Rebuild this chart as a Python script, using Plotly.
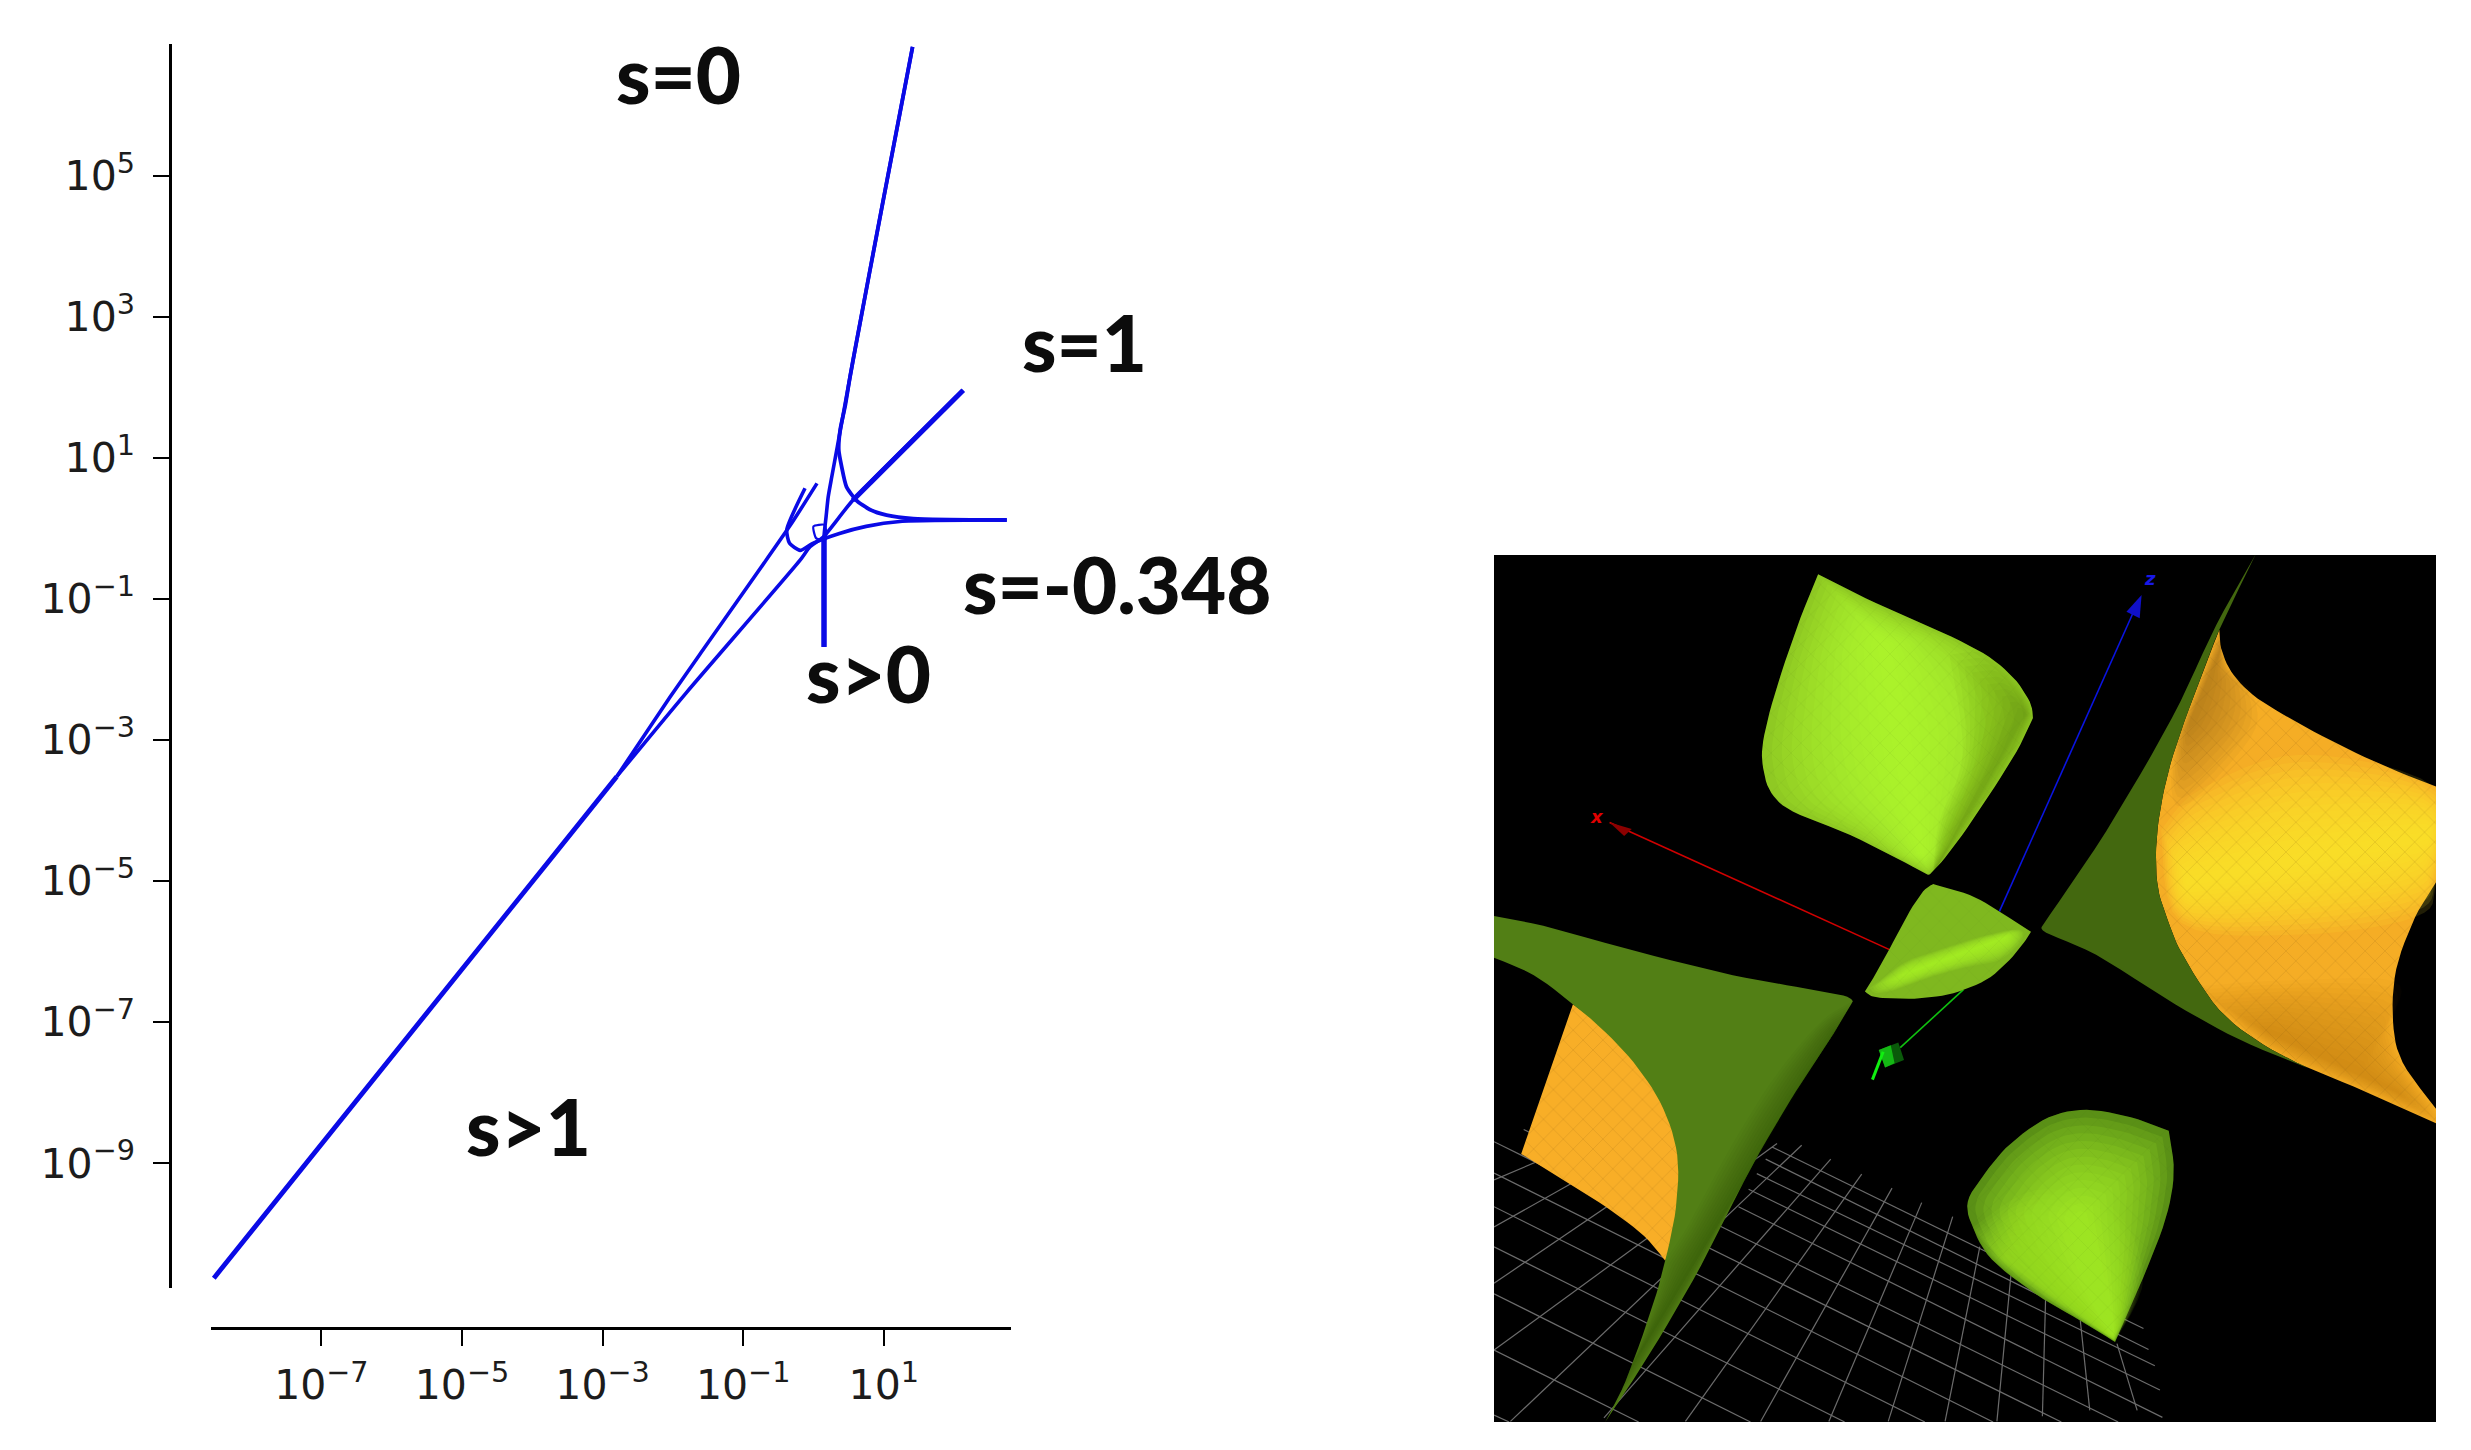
import plotly.graph_objects as go

W, H = 2471, 1450
PAGE = 8  # the page's own margin round the figure


def fx(p):
    return (p - PAGE) / (W - 2 * PAGE)


def fy(p):
    return 1 - (p - PAGE) / (H - 2 * PAGE)


# ---- left chart: curves as log10 values ----
x_ticks = [-7, -5, -3, -1, 1]
y_ticks = [-9, -7, -5, -3, -1, 1, 3, 5]
trunk_x = [-8.53, -3.75, -2.80]
trunk_y = [-10.63, -4.70, -3.52]
upper_x = [-2.80, -2.04, -1.62, -0.34, 0.05]
upper_y = [-3.52, -2.39, -1.79, 0.03, 0.64]
s1_x = [-2.80, -1.81, -0.19, -0.05, 0.14, 0.56, 2.13]
s1_y = [-3.52, -2.33, -0.45, -0.26, -0.12, 0.40, 1.96]
loop_x = [-0.12, -0.38, -0.34, -0.19, -0.01, 0.37, 0.75, 1.23, 2.75]
loop_y = [0.57, -0.02, -0.21, -0.31, -0.21, -0.07, 0.03, 0.10, 0.12]
s0_x = [1.41, 0.98, 0.59, 0.52, 0.45, 0.38, 0.36, 0.40, 0.47, 0.61, 0.80, 1.04, 1.42, 2.75]
s0_y = [6.83, 4.59, 2.53, 2.15, 1.73, 1.40, 1.11, 0.88, 0.59, 0.40, 0.27, 0.19, 0.14, 0.12]
spos_x = [1.41, 0.98, 0.59, 0.52, 0.34, 0.26, 0.21, 0.18, 0.15, 0.15]
spos_y = [6.83, 4.59, 2.53, 2.15, 1.16, 0.73, 0.45, 0.17, -0.12, -1.68]
knot_x = [0.00, 0.16, 0.17, 0.04, 0.00]
knot_y = [0.03, 0.05, -0.16, -0.14, 0.03]

labels = [("s=0", 678, 74), ("s=1", 1084, 342), ("s=-0.348", 1117, 584),
          ("s>0", 868, 673), ("s>1", 528, 1126)]

# ---- right picture: outlines in panel coordinates, as runs joined at sharp corners ----
grid_rows = [
    (462, 1046, 1050, 1359), (452, 1067, 1058, 1395), (438, 1092, 1068, 1423),
    (425, 1119, 1076, 1465), (409, 1149, 1080, 1512), (69, 1016, 1010, 1520),
    (22, 1037, 920, 1520), (22, 1091, 812, 1520), (22, 1149, 704, 1520),
    (22, 1218, 577, 1520), (22, 1299, 428, 1520), (22, 1396, 251, 1520),
    (22, 1508, 46, 1520)]
grid_cols = [
    (509, 1043, 48, 1519), (555, 1067, 196, 1513), (604, 1093, 325, 1519),
    (652, 1117, 444, 1519), (699, 1142, 552, 1519), (748, 1166, 646, 1519),
    (791, 1218, 736, 1519), (841, 1258, 818, 1519), (895, 1310, 890, 1510),
    (950, 1345, 965, 1500), (1008, 1385, 1040, 1500), (22, 1396, 470, 1040),
    (22, 1281, 391, 1008), (22, 1184, 285, 1023), (22, 1103, 233, 1005)]

orange_left = [[(147, 800), (65, 1058)],
               [(65, 1058), (120, 1095), (200, 1150), (260, 1200), (293, 1242)],
               [(293, 1242), (330, 1100), (250, 900), (147, 800)]]
green_left = [[(22, 648), (100, 665), (250, 710), (400, 750), (500, 770), (575, 785), (590, 795)],
              [(590, 795), (560, 850), (500, 950), (430, 1080), (350, 1250), (270, 1400), (198, 1520)],
              [(198, 1520), (230, 1450), (270, 1330), (293, 1242), (310, 1150), (312, 1060), (290, 980),
               (250, 910), (200, 850), (147, 800), (85, 750), (22, 720)],
              [(22, 720), (22, 648)]]
green_left_shade = [[(590, 795), (560, 850), (500, 950), (430, 1080), (350, 1250), (270, 1400), (198, 1520)],
                    [(198, 1520), (230, 1450), (270, 1330), (293, 1242)],
                    [(293, 1242), (330, 1180), (400, 1040), (470, 920), (540, 830), (590, 795)]]
green_right = [[(1228, 24), (1165, 147), (1095, 307), (991, 502), (891, 663)],
               [(891, 663), (896, 677), (975, 715), (1100, 800), (1200, 860), (1310, 910)],
               [(1310, 910), (1240, 870), (1170, 810), (1112, 715), (1089, 657), (1073, 600), (1070, 531),
                (1078, 456), (1097, 370), (1134, 256), (1170, 155), (1228, 24)]]
orange_right = [[(1170, 155), (1173, 187), (1189, 227), (1223, 267), (1281, 307), (1360, 353),
                 (1439, 393), (1513, 425)],
                [(1513, 425), (1513, 590)],
                [(1513, 590), (1480, 650), (1450, 740), (1445, 830), (1460, 900), (1513, 980)],
                [(1513, 980), (1513, 1005)],
                [(1513, 1005), (1400, 950), (1310, 910)],
                [(1310, 910), (1240, 870), (1170, 810), (1112, 715), (1089, 657), (1073, 600),
                 (1070, 531), (1078, 456), (1097, 370), (1134, 256), (1170, 155)]]
orange_glow = [[(1078, 500), (1140, 430), (1300, 370), (1513, 428), (1513, 588), (1480, 650),
                (1300, 680), (1110, 660), (1078, 500)]]
orange_dim = [[(1170, 155), (1173, 187), (1189, 227), (1223, 267), (1220, 340), (1110, 460),
               (1097, 370), (1134, 256), (1170, 155)]]
orange_dark = [[(1130, 770), (1250, 760), (1445, 760), (1445, 830), (1460, 900), (1513, 980),
                (1513, 1005), (1400, 950), (1310, 910), (1240, 870), (1170, 810), (1130, 770)]]
lump_top = [[(535, 59), (611, 101), (717, 152), (796, 195), (843, 236), (870, 279), (875, 307)],
            [(875, 307), (849, 365), (796, 456), (748, 531), (717, 571), (709, 577)],
            [(709, 577), (685, 563), (585, 508), (495, 468), (461, 436), (448, 393), (448, 347),
             (466, 267), (501, 152), (535, 59)]]
lump_top_side = [[(743, 198), (796, 195), (843, 236), (870, 279), (875, 307)],
                 [(875, 307), (849, 365), (796, 456), (748, 531), (717, 571)],
                 [(717, 571), (727, 485), (764, 370), (743, 198)]]
lump_low = [[(1090, 1018), (1030, 995), (960, 982), (900, 995), (840, 1040), (800, 1090), (772, 1140),
             (780, 1185), (810, 1240), (880, 1300), (950, 1345), (1005, 1382)],
            [(1005, 1382), (1050, 1270), (1085, 1170), (1098, 1090), (1090, 1018)]]
lump_low_lit = [[(780, 1185), (810, 1240), (880, 1300), (950, 1345), (1005, 1382)],
                [(1005, 1382), (1050, 1270), (1000, 1150), (880, 1120), (780, 1185)]]
lump_mid = [[(609, 778), (619, 761), (643, 715), (675, 649), (701, 606), (717, 593)],
            [(717, 593), (775, 612), (822, 640), (862, 669), (872, 675)],
            [(872, 675), (864, 689), (838, 724), (801, 758), (749, 781), (696, 790), (648, 790),
             (622, 787), (609, 778)]]
lump_mid_band = [[(617, 772), (670, 729), (712, 712), (775, 689), (838, 672), (859, 675),
                  (854, 695), (822, 724), (775, 735), (717, 752), (659, 775), (627, 781), (617, 772)]]
axis_x = [(205, 487), (648, 706)]
axis_z = [(822, 640), (1040, 110)]
axis_y = [(765, 775), (665, 875)]
axis_y_stem = [(638, 882), (621, 930)]
head_x = [[(205, 487), (240, 498)], [(240, 498), (228, 510)], [(228, 510), (205, 487)]]
head_z = [[(1047, 95), (1023, 124)], [(1023, 124), (1044, 135)], [(1044, 135), (1047, 95)]]
cube = [[(631, 879), (662, 866)], [(662, 866), (671, 896)], [(671, 896), (641, 909)], [(641, 909), (631, 879)]]
cube_lit = [[(631, 879), (650, 871)], [(650, 871), (656, 902)], [(656, 902), (641, 909)], [(641, 909), (631, 879)]]

fig = go.Figure()


def curve(xs, ys, width):
    fig.add_trace(go.Scatter(
        x=[10 ** v for v in xs], y=[10 ** v for v in ys], mode="lines",
        line=dict(color="#0a0ae6", width=width, shape="spline", smoothing=0.6),
        hoverinfo="skip", showlegend=False))


curve(trunk_x, trunk_y, 4.8)
curve(upper_x, upper_y, 3.6)
curve(s1_x, s1_y, 3.6)
curve(s1_x[-2:], s1_y[-2:], 5.2)
curve(loop_x, loop_y, 3.6)
curve(s0_x, s0_y, 3.8)
curve(spos_x, spos_y, 3.6)
curve(spos_x[-2:], spos_y[-2:], 5.5)
curve(knot_x, knot_y, 2.2)


def seg(p, color, width):
    fig.add_trace(go.Scatter(x=[q[0] for q in p], y=[q[1] for q in p], mode="lines",
                             line=dict(color=color, width=width), xaxis="x2", yaxis="y2",
                             hoverinfo="skip", showlegend=False))


def rounded(run, steps=6):
    """Round a run of outline points with a Catmull-Rom curve; its two ends stay put."""
    if len(run) < 3:
        return list(run)
    pts = [run[0]] + list(run) + [run[-1]]
    out = []
    for i in range(1, len(pts) - 2):
        p0, p1, p2, p3 = pts[i - 1], pts[i], pts[i + 1], pts[i + 2]
        for k in range(steps):
            t = k / steps
            out.append(tuple(
                0.5 * (2 * p1[d] + (p2[d] - p0[d]) * t + (2 * p0[d] - 5 * p1[d] + 4 * p2[d] - p3[d]) * t * t
                       + (3 * p1[d] - p0[d] - 3 * p2[d] + p3[d]) * t * t * t) for d in (0, 1)))
    out.append(run[-1])
    return out


def outline(runs):
    out = []
    for r in runs:
        out += rounded(r)
    return out


def blob(poly, color, **kw):
    xs = [q[0] for q in poly] + [poly[0][0]]
    ys = [q[1] for q in poly] + [poly[0][1]]
    fig.add_trace(go.Scatter(x=xs, y=ys, mode="lines", fill="toself", fillcolor=color,
                             line=dict(width=0), xaxis="x2", yaxis="y2",
                             hoverinfo="skip", showlegend=False, **kw))


def mesh(runs, ink, size=14, opacity=0.3):
    blob(outline(runs), "rgba(0,0,0,0)",
         fillpattern=dict(shape="x", size=size, solidity=0.07, fgcolor=ink,
                          fgopacity=opacity, bgcolor="rgba(0,0,0,0)"))


def nearest(p, a, b):
    dx, dy = b[0] - a[0], b[1] - a[1]
    t = ((p[0] - a[0]) * dx + (p[1] - a[1]) * dy) / (dx * dx + dy * dy)
    t = max(0.0, min(1.0, t))
    return (a[0] + t * dx, a[1] + t * dy)


def glow(runs, a, b, rgb, alpha, n=14):
    poly = outline(runs)
    for i in range(n):
        f = 1 - i / n
        pts = []
        for p in poly:
            c = nearest(p, a, b)
            pts.append((c[0] + f * (p[0] - c[0]), c[1] + f * (p[1] - c[1])))
        blob(pts, f"rgba({rgb},{alpha})")


for r in grid_rows + grid_cols:
    seg([(r[0], r[1]), (r[2], r[3])], "#6c6c6c", 1.2)

blob(outline(orange_left), "#f8ae27")
mesh(orange_left, "#7a5210")
blob(outline(green_left), "#527f15")
glow(green_left_shade, (560, 850), (230, 1440), "30,55,5", 0.035, n=10)
blob(outline(orange_right), "#f5ad25")
glow(orange_glow, (1120, 590), (1500, 510), "255,232,50", 0.13)
glow(orange_dim, (1172, 190), (1125, 310), "110,70,10", 0.05, n=10)
glow(orange_dark, (1250, 850), (1450, 950), "150,90,10", 0.03)
mesh(orange_right, "#7a5210")
blob(outline(green_right), "#43680f")

blob(outline(lump_top), "#8ac222")
glow(lump_top, (640, 180), (700, 540), "178,252,46", 0.12)
glow(lump_top_side, (862, 300), (722, 565), "50,80,8", 0.035, n=10)
mesh(lump_top, "#4f7a10", opacity=0.16)
blob(outline(lump_low), "#4f8214")
glow(lump_low, (1000, 1365), (950, 1170), "172,245,44", 0.12)
glow(lump_low_lit, (830, 1240), (1000, 1375), "172,245,44", 0.07)
mesh(lump_low, "#33590c", opacity=0.14)

seg(axis_x, "#d00000", 1.6)
seg(axis_z, "#0a14e0", 1.6)
seg(axis_y, "#10c010", 1.6)
blob(outline(lump_mid), "#7fb81f")
glow(lump_mid_band, (675, 747), (830, 685), "172,245,44", 0.12)
mesh(lump_mid, "#4f7a10", opacity=0.14)
blob(outline(head_x), "#8c0000")
blob(outline(head_z), "#1010c8")
blob(outline(cube), "#0a5a0a")
blob(outline(cube_lit), "#14b814")
seg(axis_y_stem, "#10f010", 3)

tick_font = dict(family="DejaVu Sans", size=41, color="#1c1c1c")
axis_common = dict(type="log", showgrid=False, zeroline=False, showline=True, linecolor="black",
                   linewidth=2.6, ticks="outside", ticklen=16, tickwidth=2, tickcolor="black",
                   tickfont=tick_font, tickmode="array", anchor="free")

annotations = [dict(text=t, x=fx(px), y=fy(py), xref="paper", yref="paper", showarrow=False,
                    xanchor="center", yanchor="middle",
                    font=dict(family="Lato", size=78, color="#0c0c0c", weight=900))
               for t, px, py in labels]
annotations += [
    dict(text="<b><i>x</i></b>", x=185, y=477, xref="x2", yref="y2", showarrow=False,
         font=dict(family="DejaVu Sans", size=18, color="#e00000")),
    dict(text="<b><i>z</i></b>", x=1060, y=67, xref="x2", yref="y2", showarrow=False,
         font=dict(family="DejaVu Sans", size=18, color="#1818e8")),
]

fig.update_layout(
    width=W - 2 * PAGE, height=H - 2 * PAGE, autosize=False, margin=dict(l=0, r=0, t=0, b=0),
    paper_bgcolor="white", plot_bgcolor="rgba(0,0,0,0)", showlegend=False,
    xaxis=dict(domain=[fx(211), fx(1011)], range=[-8.57, 2.81], position=fy(1328),
               ticklabelstandoff=4,
               tickvals=[10 ** v for v in x_ticks],
               ticktext=[f"10<sup>{str(v).replace('-', '−')}</sup>" for v in x_ticks], **axis_common),
    yaxis=dict(domain=[fy(1288), fy(44)], range=[-10.77, 6.87], position=fx(170),
               ticklabelstandoff=10,
               tickvals=[10 ** v for v in y_ticks],
               ticktext=[f"10<sup>{str(v).replace('-', '−')}</sup>" for v in y_ticks], **axis_common),
    xaxis2=dict(domain=[fx(1494), fx(2436)], range=[22, 1513], visible=False, anchor="y2"),
    yaxis2=dict(domain=[fy(1422), fy(555)], range=[1520, 26], visible=False, anchor="x2"),
    shapes=[dict(type="rect", xref="x2 domain", yref="y2 domain", x0=0, x1=1, y0=0, y1=1,
                 fillcolor="black", line_width=0, layer="below")],
    annotations=annotations,
)

fig.write_html("out.html")
